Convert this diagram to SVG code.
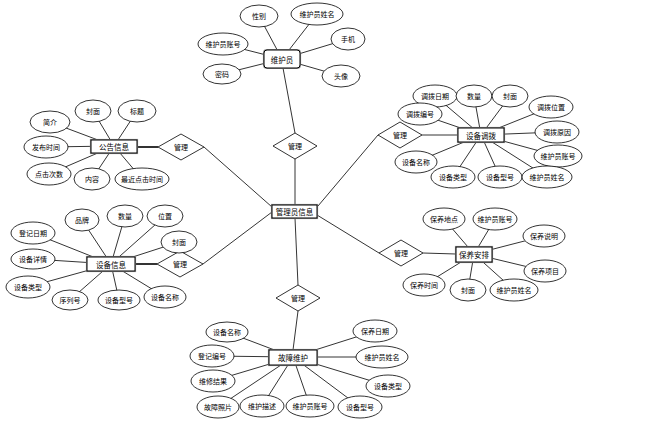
<svg xmlns="http://www.w3.org/2000/svg" width="655" height="423" viewBox="0 0 655 423">
<style>
.ln line{stroke:#000;stroke-width:0.8}
.ln line.b{stroke-width:1.6}
ellipse{fill:#fff;stroke:#000;stroke-width:0.8}
polygon{fill:#fff;stroke:#000;stroke-width:0.8}
.o{fill:none;stroke:#999;stroke-width:2.2}
.i{fill:#fff;stroke:#000;stroke-width:1}
text{font-family:"Noto Sans CJK SC","Noto Sans",sans-serif;font-size:7px;text-anchor:middle;dominant-baseline:central;fill:#000}
text.en{font-size:7.5px}
</style>
<rect width="655" height="423" fill="#fff"/>
<g id="connectors" class="ln">
<!-- 维护员 -->
<line x1="259" y1="16" x2="282" y2="59"/><line x1="317" y1="14" x2="282" y2="59"/><line x1="223" y1="44" x2="282" y2="59"/><line x1="348" y1="39" x2="282" y2="59"/><line x1="222" y1="74" x2="282" y2="59"/><line x1="341" y1="76" x2="282" y2="59"/>
<!-- 公告信息 -->
<line x1="50" y1="122" x2="114" y2="146"/><line x1="93" y1="111" x2="114" y2="146"/><line x1="137" y1="111" x2="114" y2="146"/><line x1="46" y1="147" x2="114" y2="146"/><line x1="49" y1="174" x2="114" y2="146"/><line x1="92" y1="179" x2="114" y2="146"/><line x1="142" y1="179" x2="114" y2="146"/>
<!-- 设备调拨 -->
<line x1="435" y1="96" x2="481" y2="135"/><line x1="474" y1="96" x2="481" y2="135"/><line x1="510" y1="96" x2="481" y2="135"/><line x1="420" y1="114" x2="481" y2="135"/><line x1="551" y1="107" x2="481" y2="135"/><line x1="557" y1="132" x2="481" y2="135"/><line x1="558" y1="156" x2="481" y2="135"/><line x1="416" y1="162" x2="481" y2="135"/><line x1="453" y1="177" x2="481" y2="135"/><line x1="500" y1="177" x2="481" y2="135"/><line x1="547" y1="177" x2="481" y2="135"/>
<!-- 设备信息 -->
<line x1="82" y1="220" x2="111" y2="264"/><line x1="125" y1="216" x2="111" y2="264"/><line x1="165" y1="216" x2="111" y2="264"/><line x1="33" y1="233" x2="111" y2="264"/><line x1="179" y1="242" x2="111" y2="264"/><line x1="33" y1="259" x2="111" y2="264"/><line x1="28" y1="287" x2="111" y2="264"/><line x1="70" y1="300" x2="111" y2="264"/><line x1="119" y1="300" x2="111" y2="264"/><line x1="165" y1="297" x2="111" y2="264"/>
<!-- 保养安排 -->
<line x1="444" y1="219" x2="474" y2="254"/><line x1="495" y1="219" x2="474" y2="254"/><line x1="544" y1="236" x2="474" y2="254"/><line x1="545" y1="271" x2="474" y2="254"/><line x1="424" y1="285" x2="474" y2="254"/><line x1="468" y1="290" x2="474" y2="254"/><line x1="514" y1="290" x2="474" y2="254"/>
<!-- 故障维护 -->
<line x1="227" y1="332" x2="293" y2="357"/><line x1="212" y1="356" x2="293" y2="357"/><line x1="213" y1="381" x2="293" y2="357"/><line x1="218" y1="407" x2="293" y2="357"/><line x1="262" y1="406" x2="293" y2="357"/><line x1="310" y1="406" x2="293" y2="357"/><line x1="360" y1="407" x2="293" y2="357"/><line x1="375" y1="331" x2="293" y2="357"/><line x1="382" y1="357" x2="293" y2="357"/><line x1="388" y1="386" x2="293" y2="357"/>
<!-- relationships -->
<line x1="283" y1="68" x2="295" y2="133"/><line x1="295" y1="159" x2="295" y2="205"/>
<line class="b" x1="137" y1="147" x2="158" y2="147"/><line x1="204" y1="147" x2="272" y2="207"/>
<line x1="318" y1="206" x2="378" y2="135"/><line x1="422" y1="135" x2="458" y2="135"/>
<line class="b" x1="135" y1="264" x2="157" y2="264"/><line x1="203" y1="264" x2="272" y2="212"/>
<line x1="317" y1="215" x2="379" y2="253"/><line x1="423" y1="253" x2="456" y2="254"/>
<line x1="295" y1="218" x2="298" y2="285"/><line x1="298" y1="311" x2="293" y2="350"/>
</g>
<g id="rel-1"><polygon points="295,133 317,146 295,159 273,146"/><text x="295" y="146">管理</text></g>
<g id="rel-2"><polygon points="181,134 204,147 181,160 158,147"/><text x="181" y="147">管理</text></g>
<g id="rel-3"><polygon points="400,122 422,135 400,148 378,135"/><text x="400" y="135">管理</text></g>
<g id="rel-4"><polygon points="180,251 203,264 180,277 157,264"/><text x="180" y="264">管理</text></g>
<g id="rel-5"><polygon points="401,240 423,253 401,266 379,253"/><text x="401" y="253">管理</text></g>
<g id="rel-6"><polygon points="298,285 320,298 298,311 276,298"/><text x="298" y="298">管理</text></g>
<g id="e-weihuyuan"><rect class="o" x="264" y="50" width="36" height="18" rx="3"/><rect class="i" x="264" y="50" width="36" height="18" rx="3"/><text class="en" x="282" y="59">维护员</text></g>
<g id="e-gonggao"><rect class="o" x="91" y="140" width="46" height="13"/><rect class="i" x="91" y="140" width="46" height="13"/><text class="en" x="114" y="146.5">公告信息</text></g>
<g id="e-diaobo"><rect class="o" x="458" y="128" width="46" height="14"/><rect class="i" x="458" y="128" width="46" height="14"/><text class="en" x="481" y="135">设备调拨</text></g>
<g id="e-shebei"><rect class="o" x="87" y="257" width="48" height="14"/><rect class="i" x="87" y="257" width="48" height="14"/><text class="en" x="111" y="264">设备信息</text></g>
<g id="e-admin"><rect class="o" x="272" y="205" width="45" height="13"/><rect class="i" x="272" y="205" width="45" height="13"/><text class="en" x="294.5" y="211.5">管理员信息</text></g>
<g id="e-baoyang"><rect class="o" x="456" y="247" width="36" height="15"/><rect class="i" x="456" y="247" width="36" height="15"/><text class="en" x="474" y="254.5">保养安排</text></g>
<g id="e-guzhang"><rect class="o" x="269" y="350" width="48" height="15"/><rect class="i" x="269" y="350" width="48" height="15"/><text class="en" x="293" y="357.5">故障维护</text></g>
<g id="a-weihuyuan">
<ellipse cx="259" cy="16" rx="19" ry="11"/><text x="259" y="16">性别</text>
<ellipse cx="317" cy="14" rx="26" ry="11"/><text x="317" y="14">维护员姓名</text>
<ellipse cx="223" cy="44" rx="25" ry="11"/><text x="223" y="44">维护员账号</text>
<ellipse cx="348" cy="39" rx="17" ry="11"/><text x="348" y="39">手机</text>
<ellipse cx="222" cy="74" rx="19" ry="10"/><text x="222" y="74">密码</text>
<ellipse cx="341" cy="76" rx="19" ry="11"/><text x="341" y="76">头像</text>
</g>
<g id="a-gonggao">
<ellipse cx="50" cy="122" rx="20" ry="11"/><text x="50" y="122">简介</text>
<ellipse cx="93" cy="111" rx="18" ry="11"/><text x="93" y="111">封面</text>
<ellipse cx="137" cy="111" rx="19" ry="11"/><text x="137" y="111">标题</text>
<ellipse cx="46" cy="147" rx="22" ry="11"/><text x="46" y="147">发布时间</text>
<ellipse cx="49" cy="174" rx="22" ry="11"/><text x="49" y="174">点击次数</text>
<ellipse cx="92" cy="179" rx="18" ry="11"/><text x="92" y="179">内容</text>
<ellipse cx="142" cy="179" rx="27" ry="11"/><text x="142" y="179">最近点击时间</text>
</g>
<g id="a-diaobo">
<ellipse cx="435" cy="96" rx="22" ry="11"/><text x="435" y="96">调拨日期</text>
<ellipse cx="474" cy="96" rx="18" ry="11"/><text x="474" y="96">数量</text>
<ellipse cx="510" cy="96" rx="18" ry="11"/><text x="510" y="96">封面</text>
<ellipse cx="420" cy="114" rx="22" ry="11"/><text x="420" y="114">调拨编号</text>
<ellipse cx="551" cy="107" rx="22" ry="11"/><text x="551" y="107">调拨位置</text>
<ellipse cx="557" cy="132" rx="22" ry="11"/><text x="557" y="132">调拨原因</text>
<ellipse cx="558" cy="156" rx="24" ry="11"/><text x="558" y="156">维护员账号</text>
<ellipse cx="416" cy="162" rx="21" ry="11"/><text x="416" y="162">设备名称</text>
<ellipse cx="453" cy="177" rx="22" ry="11"/><text x="453" y="177">设备类型</text>
<ellipse cx="500" cy="177" rx="22" ry="11"/><text x="500" y="177">设备型号</text>
<ellipse cx="547" cy="177" rx="25" ry="11"/><text x="547" y="177">维护员姓名</text>
</g>
<g id="a-shebei">
<ellipse cx="82" cy="220" rx="17" ry="11"/><text x="82" y="220">品牌</text>
<ellipse cx="125" cy="216" rx="18" ry="11"/><text x="125" y="216">数量</text>
<ellipse cx="165" cy="216" rx="18" ry="11"/><text x="165" y="216">位置</text>
<ellipse cx="33" cy="233" rx="22" ry="11"/><text x="33" y="233">登记日期</text>
<ellipse cx="179" cy="242" rx="18" ry="11"/><text x="179" y="242">封面</text>
<ellipse cx="33" cy="259" rx="22" ry="10"/><text x="33" y="259">设备详情</text>
<ellipse cx="28" cy="287" rx="22" ry="11"/><text x="28" y="287">设备类型</text>
<ellipse cx="70" cy="300" rx="18" ry="10"/><text x="70" y="300">序列号</text>
<ellipse cx="119" cy="300" rx="21" ry="10"/><text x="119" y="300">设备型号</text>
<ellipse cx="165" cy="297" rx="21" ry="11"/><text x="165" y="297">设备名称</text>
</g>
<g id="a-baoyang">
<ellipse cx="444" cy="219" rx="21" ry="11"/><text x="444" y="219">保养地点</text>
<ellipse cx="495" cy="219" rx="22" ry="11"/><text x="495" y="219">维护员账号</text>
<ellipse cx="544" cy="236" rx="21" ry="11"/><text x="544" y="236">保养说明</text>
<ellipse cx="545" cy="271" rx="21" ry="11"/><text x="545" y="271">保养项目</text>
<ellipse cx="424" cy="285" rx="21" ry="11"/><text x="424" y="285">保养时间</text>
<ellipse cx="468" cy="290" rx="18" ry="11"/><text x="468" y="290">封面</text>
<ellipse cx="514" cy="290" rx="24" ry="11"/><text x="514" y="290">维护员姓名</text>
</g>
<g id="a-guzhang">
<ellipse cx="227" cy="332" rx="21" ry="10"/><text x="227" y="332">设备名称</text>
<ellipse cx="212" cy="356" rx="22" ry="11"/><text x="212" y="356">登记编号</text>
<ellipse cx="213" cy="381" rx="22" ry="11"/><text x="213" y="381">维修结果</text>
<ellipse cx="218" cy="407" rx="21" ry="11"/><text x="218" y="407">故障照片</text>
<ellipse cx="262" cy="406" rx="22" ry="11"/><text x="262" y="406">维护描述</text>
<ellipse cx="310" cy="406" rx="24" ry="11"/><text x="310" y="406">维护员账号</text>
<ellipse cx="360" cy="407" rx="22" ry="11"/><text x="360" y="407">设备型号</text>
<ellipse cx="375" cy="331" rx="22" ry="11"/><text x="375" y="331">保养日期</text>
<ellipse cx="382" cy="357" rx="26" ry="11"/><text x="382" y="357">维护员姓名</text>
<ellipse cx="388" cy="386" rx="22" ry="11"/><text x="388" y="386">设备类型</text>
</g>
</svg>
